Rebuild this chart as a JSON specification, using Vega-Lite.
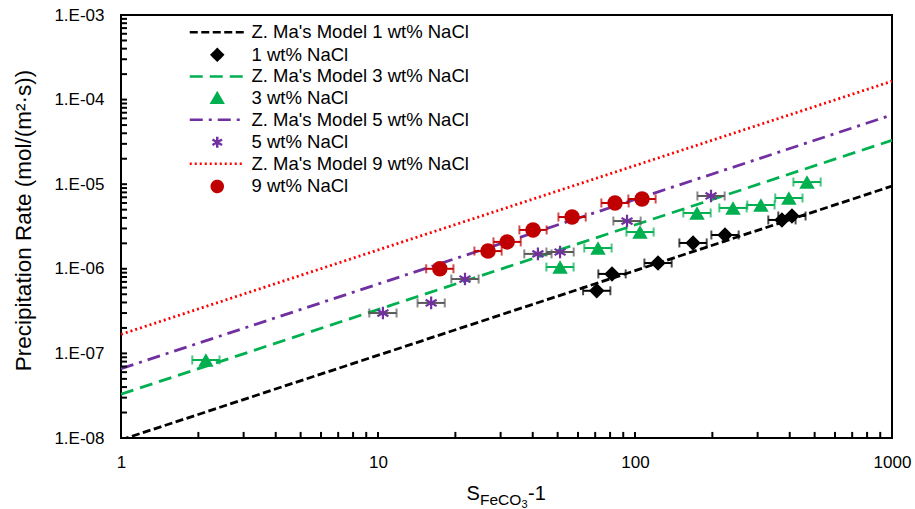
{
  "$schema": "https://vega.github.io/schema/vega-lite/v6.json",
  "width": 771,
  "height": 423,
  "autosize": {"type": "none"},
  "padding": {"left": 121, "top": 15, "right": 23, "bottom": 71},
  "background": "white",
  "datasets": {
    "models": [
      {"series": "Z. Ma's Model 1 wt% NaCl", "x": 1, "y": 9.5e-9},
      {"series": "Z. Ma's Model 1 wt% NaCl", "x": 1000, "y": 9.5e-6},
      {"series": "Z. Ma's Model 3 wt% NaCl", "x": 1, "y": 3.3e-8},
      {"series": "Z. Ma's Model 3 wt% NaCl", "x": 1000, "y": 3.3e-5},
      {"series": "Z. Ma's Model 5 wt% NaCl", "x": 1, "y": 6.6e-8},
      {"series": "Z. Ma's Model 5 wt% NaCl", "x": 1000, "y": 6.6e-5},
      {"series": "Z. Ma's Model 9 wt% NaCl", "x": 1, "y": 1.68e-7},
      {"series": "Z. Ma's Model 9 wt% NaCl", "x": 1000, "y": 1.65e-4}
    ],
    "xminor": [
      {"v": 2}, {"v": 3}, {"v": 4}, {"v": 5}, {"v": 6}, {"v": 7}, {"v": 8}, {"v": 9}, {"v": 10},
      {"v": 20}, {"v": 30}, {"v": 40}, {"v": 50}, {"v": 60}, {"v": 70}, {"v": 80}, {"v": 90}, {"v": 100},
      {"v": 200}, {"v": 300}, {"v": 400}, {"v": 500}, {"v": 600}, {"v": 700}, {"v": 800}, {"v": 900}
    ],
    "yminor": [
      {"v": 2e-8}, {"v": 3e-8}, {"v": 4e-8}, {"v": 5e-8}, {"v": 6e-8}, {"v": 7e-8}, {"v": 8e-8}, {"v": 9e-8}, {"v": 1e-7},
      {"v": 2e-7}, {"v": 3e-7}, {"v": 4e-7}, {"v": 5e-7}, {"v": 6e-7}, {"v": 7e-7}, {"v": 8e-7}, {"v": 9e-7}, {"v": 1e-6},
      {"v": 2e-6}, {"v": 3e-6}, {"v": 4e-6}, {"v": 5e-6}, {"v": 6e-6}, {"v": 7e-6}, {"v": 8e-6}, {"v": 9e-6}, {"v": 1e-5},
      {"v": 2e-5}, {"v": 3e-5}, {"v": 4e-5}, {"v": 5e-5}, {"v": 6e-5}, {"v": 7e-5}, {"v": 8e-5}, {"v": 9e-5}, {"v": 1e-4},
      {"v": 2e-4}, {"v": 3e-4}, {"v": 4e-4}, {"v": 5e-4}, {"v": 6e-4}, {"v": 7e-4}, {"v": 8e-4}, {"v": 9e-4}
    ],
    "points": [
      {"series": "1 wt% NaCl", "x": 71.0, "y": 5.5e-7, "xlo": 62.8, "xhi": 80.2},
      {"series": "1 wt% NaCl", "x": 81.4, "y": 8.7e-7, "xlo": 72.0, "xhi": 92.0},
      {"series": "1 wt% NaCl", "x": 122.9, "y": 1.17e-6, "xlo": 108.8, "xhi": 138.9},
      {"series": "1 wt% NaCl", "x": 168.2, "y": 2.02e-6, "xlo": 148.8, "xhi": 190.1},
      {"series": "1 wt% NaCl", "x": 224, "y": 2.51e-6, "xlo": 198.2, "xhi": 253.1},
      {"series": "1 wt% NaCl", "x": 373, "y": 3.78e-6, "xlo": 330.1, "xhi": 421.5},
      {"series": "1 wt% NaCl", "x": 408, "y": 4.21e-6, "xlo": 361.1, "xhi": 461.0},
      {"series": "3 wt% NaCl", "x": 2.14, "y": 8.36e-8, "xlo": 1.894, "xhi": 2.418},
      {"series": "3 wt% NaCl", "x": 51.1, "y": 1.05e-6, "xlo": 45.2, "xhi": 57.7},
      {"series": "3 wt% NaCl", "x": 71.8, "y": 1.76e-6, "xlo": 63.5, "xhi": 81.1},
      {"series": "3 wt% NaCl", "x": 104.6, "y": 2.72e-6, "xlo": 92.6, "xhi": 118.2},
      {"series": "3 wt% NaCl", "x": 174.3, "y": 4.57e-6, "xlo": 154.2, "xhi": 197.0},
      {"series": "3 wt% NaCl", "x": 240.6, "y": 5.24e-6, "xlo": 212.9, "xhi": 271.9},
      {"series": "3 wt% NaCl", "x": 309, "y": 5.68e-6, "xlo": 273.5, "xhi": 349.2},
      {"series": "3 wt% NaCl", "x": 397, "y": 6.87e-6, "xlo": 351.3, "xhi": 448.6},
      {"series": "3 wt% NaCl", "x": 467, "y": 1.06e-5, "xlo": 413.3, "xhi": 527.7},
      {"series": "5 wt% NaCl", "x": 10.45, "y": 3.0e-7, "xlo": 9.25, "xhi": 11.81},
      {"series": "5 wt% NaCl", "x": 16.1, "y": 3.95e-7, "xlo": 14.25, "xhi": 18.19},
      {"series": "5 wt% NaCl", "x": 21.8, "y": 7.57e-7, "xlo": 19.29, "xhi": 24.63},
      {"series": "5 wt% NaCl", "x": 41.9, "y": 1.5e-6, "xlo": 37.08, "xhi": 47.35},
      {"series": "5 wt% NaCl", "x": 51.1, "y": 1.58e-6, "xlo": 45.22, "xhi": 57.74},
      {"series": "5 wt% NaCl", "x": 93.1, "y": 3.67e-6, "xlo": 82.39, "xhi": 105.2},
      {"series": "5 wt% NaCl", "x": 197.6, "y": 7.26e-6, "xlo": 174.9, "xhi": 223.3},
      {"series": "9 wt% NaCl", "x": 17.4, "y": 1.0e-6, "xlo": 15.4, "xhi": 19.66},
      {"series": "9 wt% NaCl", "x": 26.8, "y": 1.62e-6, "xlo": 23.72, "xhi": 30.28},
      {"series": "9 wt% NaCl", "x": 31.8, "y": 2.08e-6, "xlo": 28.14, "xhi": 35.93},
      {"series": "9 wt% NaCl", "x": 40.1, "y": 2.88e-6, "xlo": 35.49, "xhi": 45.31},
      {"series": "9 wt% NaCl", "x": 56.9, "y": 4.09e-6, "xlo": 50.35, "xhi": 64.3},
      {"series": "9 wt% NaCl", "x": 83.6, "y": 6.0e-6, "xlo": 73.98, "xhi": 94.47},
      {"series": "9 wt% NaCl", "x": 106.5, "y": 6.68e-6, "xlo": 94.25, "xhi": 120.3}
    ]
  },
  "resolve": {"axis": {"x": "independent", "y": "independent"}},
  "layer": [
    {
      "data": {"name": "models"},
      "mark": {"type": "line", "clip": true, "strokeWidth": 2.8},
      "encoding": {
        "x": {
          "field": "x", "type": "quantitative",
          "scale": {"type": "log", "domain": [1, 1000], "nice": false},
          "axis": {
            "orient": "bottom", "values": [1, 10, 100, 1000], "format": "d",
            "labelOverlap": false,
            "labelFontSize": 17, "labelPadding": 16, "labelFlush": false,
            "ticks": false, "domain": false, "grid": false,
            "title": "S", "titleFontSize": 20, "titleFontWeight": "normal",
            "titleX": 345, "titleY": 61, "titleAlign": "left", "titleBaseline": "alphabetic"
          }
        },
        "y": {
          "field": "y", "type": "quantitative",
          "scale": {"type": "log", "domain": [1e-8, 0.001], "nice": false},
          "axis": {
            "orient": "left", "values": [1e-8, 1e-7, 1e-6, 1e-5, 1e-4, 0.001],
            "labelExpr": "'1.E-0' + round(-log(datum.value)/LN10)",
            "labelOverlap": false,
            "labelFontSize": 17, "labelPadding": 17, "labelFlush": false,
            "ticks": false, "domain": false, "grid": false,
            "title": "Precipitation Rate (mol/(m²·s))", "titleFontSize": 22.5,
            "titleFontWeight": "normal", "titlePadding": 18, "titleY": 205
          }
        },
        "color": {
          "field": "series", "type": "nominal",
          "scale": {
            "domain": ["Z. Ma's Model 1 wt% NaCl", "1 wt% NaCl", "Z. Ma's Model 3 wt% NaCl", "3 wt% NaCl", "Z. Ma's Model 5 wt% NaCl", "5 wt% NaCl", "Z. Ma's Model 9 wt% NaCl", "9 wt% NaCl"],
            "range": ["#000000", "#000000", "#00B050", "#00B050", "#7030A0", "#7030A0", "#FF0000", "#C00000"]
          },
          "legend": {
            "orient": "none", "legendX": 87, "legendY": 8, "title": null, "padding": 0,
            "symbolSize": 121, "symbolStrokeWidth": 2.5,
            "labelFontSize": 18.5, "labelFont": "Liberation Sans", "labelColor": "#000",
            "labelOffset": 25, "rowPadding": 1.6, "labelLimit": 400,
            "encode": {
              "symbols": {
                "update": {
                  "shape": {"signal": "indexof(datum.value, 'Model') >= 0 ? 'M-5,0H5' : datum.value == '1 wt% NaCl' ? 'diamond' : datum.value == '3 wt% NaCl' ? 'triangle-up' : datum.value == '5 wt% NaCl' ? 'M0,-1L0,1M-0.87,-0.5L0.87,0.5M-0.87,0.5L0.87,-0.5' : 'circle'"},
                  "fill": {"signal": "(indexof(datum.value, 'Model') >= 0 || datum.value == '5 wt% NaCl') ? 'transparent' : scale('color', datum.value)"},
                  "stroke": {"signal": "(indexof(datum.value, 'Model') >= 0 || datum.value == '5 wt% NaCl') ? scale('color', datum.value) : 'transparent'"},
                  "strokeDash": {"signal": "indexof(datum.value, 'Model 1 ') >= 0 ? [8, 3.5] : indexof(datum.value, 'Model 3 ') >= 0 ? [13, 7] : indexof(datum.value, 'Model 5 ') >= 0 ? [13, 6, 3, 6] : indexof(datum.value, 'Model 9 ') >= 0 ? [2, 3] : [1, 0]"},
                  "strokeWidth": {"value": 2.5},
                  "opacity": {"value": 1}
                }
              }
            }
          }
        },
        "strokeDash": {
          "field": "series", "type": "nominal",
          "scale": {
            "domain": ["Z. Ma's Model 1 wt% NaCl", "Z. Ma's Model 3 wt% NaCl", "Z. Ma's Model 5 wt% NaCl", "Z. Ma's Model 9 wt% NaCl"],
            "range": [[8, 3.5], [13, 7], [13, 6, 3, 6], [2, 3]]
          },
          "legend": null
        }
      }
    },
    {
      "data": {"name": "xminor"},
      "mark": {"type": "rule", "strokeWidth": 2, "color": "#000", "opacity": 1},
      "encoding": {
        "x": {"field": "v", "type": "quantitative", "axis": null},
        "y": {"datum": 1e-8, "type": "quantitative", "axis": null},
        "y2": {"datum": 1.18e-8}
      }
    },
    {
      "data": {"name": "yminor"},
      "mark": {"type": "rule", "strokeWidth": 2, "color": "#000", "opacity": 1},
      "encoding": {
        "x": {"datum": 1, "type": "quantitative", "axis": null},
        "x2": {"datum": 1.055},
        "y": {"field": "v", "type": "quantitative", "axis": null}
      }
    },
    {
      "data": {"name": "points"},
      "mark": {"type": "rule", "strokeWidth": 2},
      "encoding": {
        "x": {
          "field": "xlo", "type": "quantitative",
          "axis": {
            "orient": "bottom", "labels": false, "domain": false, "grid": false, "ticks": false,
            "title": "FeCO", "titleFontSize": 15.5, "titleFontWeight": "normal",
            "titleX": 358.5, "titleY": 66, "titleAlign": "left", "titleBaseline": "alphabetic"
          }
        },
        "x2": {"field": "xhi"},
        "y": {"field": "y", "type": "quantitative", "axis": null},
        "stroke": {
          "field": "series", "type": "nominal",
          "scale": {"domain": ["1 wt% NaCl", "3 wt% NaCl", "5 wt% NaCl", "9 wt% NaCl"], "range": ["#000000", "#00B050", "#595959", "#C00000"]},
          "legend": null
        }
      }
    },
    {
      "data": {"name": "points"},
      "mark": {"type": "tick", "orient": "vertical", "size": 9, "thickness": 2},
      "encoding": {
        "x": {
          "field": "xlo", "type": "quantitative",
          "axis": {
            "orient": "bottom", "labels": false, "domain": false, "grid": false, "ticks": false,
            "title": "3", "titleFontSize": 11, "titleFontWeight": "normal",
            "titleX": 400, "titleY": 69, "titleAlign": "left", "titleBaseline": "alphabetic"
          }
        },
        "y": {"field": "y", "type": "quantitative", "axis": null},
        "fill": {
          "field": "series", "type": "nominal",
          "scale": {"domain": ["1 wt% NaCl", "3 wt% NaCl", "5 wt% NaCl", "9 wt% NaCl"], "range": ["#000000", "#00B050", "#595959", "#C00000"]},
          "legend": null
        }
      }
    },
    {
      "data": {"name": "points"},
      "mark": {"type": "tick", "orient": "vertical", "size": 9, "thickness": 2},
      "encoding": {
        "x": {
          "field": "xhi", "type": "quantitative",
          "axis": {
            "orient": "bottom", "labels": false, "domain": false, "grid": false, "ticks": false,
            "title": "-1", "titleFontSize": 20, "titleFontWeight": "normal",
            "titleX": 406.5, "titleY": 61, "titleAlign": "left", "titleBaseline": "alphabetic"
          }
        },
        "y": {"field": "y", "type": "quantitative", "axis": null},
        "fill": {
          "field": "series", "type": "nominal",
          "legend": null
        }
      }
    },
    {
      "data": {"name": "points"},
      "transform": [{"filter": "datum.series != '5 wt% NaCl'"}],
      "mark": {"type": "point", "filled": true, "size": 240, "opacity": 1},
      "encoding": {
        "x": {"field": "x", "type": "quantitative", "axis": null},
        "y": {"field": "y", "type": "quantitative", "axis": null},
        "color": {"field": "series", "type": "nominal"},
        "shape": {
          "field": "series", "type": "nominal",
          "scale": {"domain": ["1 wt% NaCl", "3 wt% NaCl", "9 wt% NaCl"], "range": ["diamond", "triangle-up", "circle"]},
          "legend": null
        }
      }
    },
    {
      "data": {"name": "points"},
      "transform": [{"filter": "datum.series == '5 wt% NaCl'"}],
      "mark": {"type": "point", "filled": false, "size": 160, "strokeWidth": 2.2, "opacity": 1, "shape": "M0,-1L0,1M-0.87,-0.5L0.87,0.5M-0.87,0.5L0.87,-0.5"},
      "encoding": {
        "x": {"field": "x", "type": "quantitative", "axis": null},
        "y": {"field": "y", "type": "quantitative", "axis": null},
        "color": {"field": "series", "type": "nominal"}
      }
    }
  ],
  "config": {
    "font": "Liberation Sans",
    "view": {"stroke": "#000", "strokeWidth": 2},
    "axis": {"labelFont": "Liberation Sans", "titleFont": "Liberation Sans", "labelColor": "#000", "titleColor": "#000"}
  }
}
